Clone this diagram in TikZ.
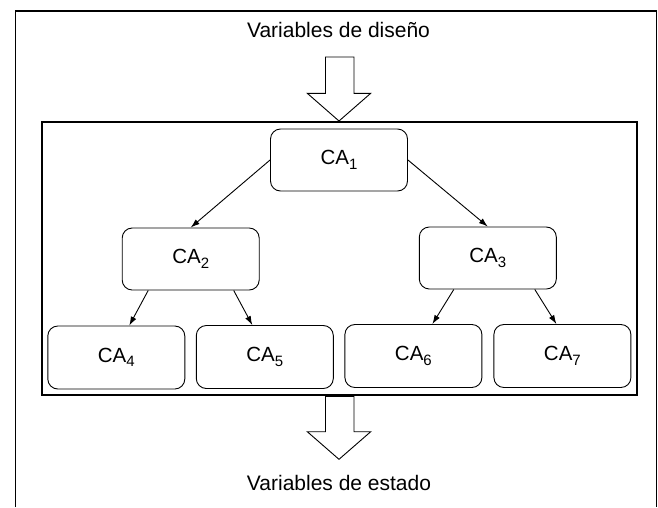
\documentclass[tikz,border=0pt]{standalone}
\usepackage{fontspec}
\setmainfont{Liberation Sans}
\usetikzlibrary{arrows.meta}

\newcommand{\subca}[1]{\raisebox{-4.5pt}{\fontsize{15}{15}\selectfont #1}}

\tikzset{
	cabox/.style={draw, rounded corners=10pt, line width=0.9pt, minimum width=137pt, minimum height=62pt, font=\fontsize{20.5}{24}\selectfont},
	flecha/.style={-{Latex[length=9pt,width=6pt]}, line width=0.9pt},
	hueca/.style={draw, line width=0.9pt, fill=white},
	etiqueta/.style={font=\fontsize{21}{25}\selectfont, anchor=base}
}

\begin{document}
\begin{tikzpicture}[x=1pt,y=-1pt]
	\useasboundingbox (0,0) rectangle (658,507);
	% marco exterior e interior
	\draw[line width=1.6pt] (15.5,507) -- (15.5,11) -- (656.5,11) -- (656.5,507);
	\draw[line width=2pt] (41.5,121.7) rectangle (636.7,395.3);
	% textos
	\node[etiqueta] (diseno) at (338.5,37.3) {Variables de diseño};
	\node[etiqueta] (estado) at (339,490) {Variables de estado};
	% flechas huecas
	\draw[hueca] (325.5,57) -- (354,57) -- (354,93.3) -- (370.7,93.3) -- (339,121) -- (307.3,93.3) -- (325.5,93.3) -- cycle;
	\draw[hueca] (325.5,396.3) -- (354,396.3) -- (354,431.7) -- (370.7,431.7) -- (339,459.3) -- (307.3,431.7) -- (325.5,431.7) -- cycle;
	% cajas
	\node[cabox] (ca1) at (339,160) {CA\subca{1}};
	\node[cabox] (ca2) at (190.7,259) {CA\subca{2}};
	\node[cabox] (ca3) at (487.8,258) {CA\subca{3}};
	\node[cabox, minimum height=63pt] (ca4) at (116.3,357.5) {CA\subca{4}};
	\node[cabox, minimum height=63pt] (ca5) at (264.8,357) {CA\subca{5}};
	\node[cabox, minimum height=63pt] (ca6) at (413.4,356) {CA\subca{6}};
	\node[cabox, minimum height=63pt] (ca7) at (562.4,356) {CA\subca{7}};
	% conexiones
	\draw[flecha] (ca1.west) -- (ca2.north);
	\draw[flecha] (ca1.east) -- (ca3.north);
	\draw[flecha] ([xshift=-42.5pt]ca2.south) -- ([xshift=13pt]ca4.north);
	\draw[flecha] ([xshift=43pt]ca2.south) -- ([xshift=-12.5pt]ca5.north);
	\draw[flecha] ([xshift=-34pt]ca3.south) -- ([xshift=19pt]ca6.north);
	\draw[flecha] ([xshift=47pt]ca3.south) -- ([xshift=-6pt]ca7.north);
\end{tikzpicture}
\end{document}
